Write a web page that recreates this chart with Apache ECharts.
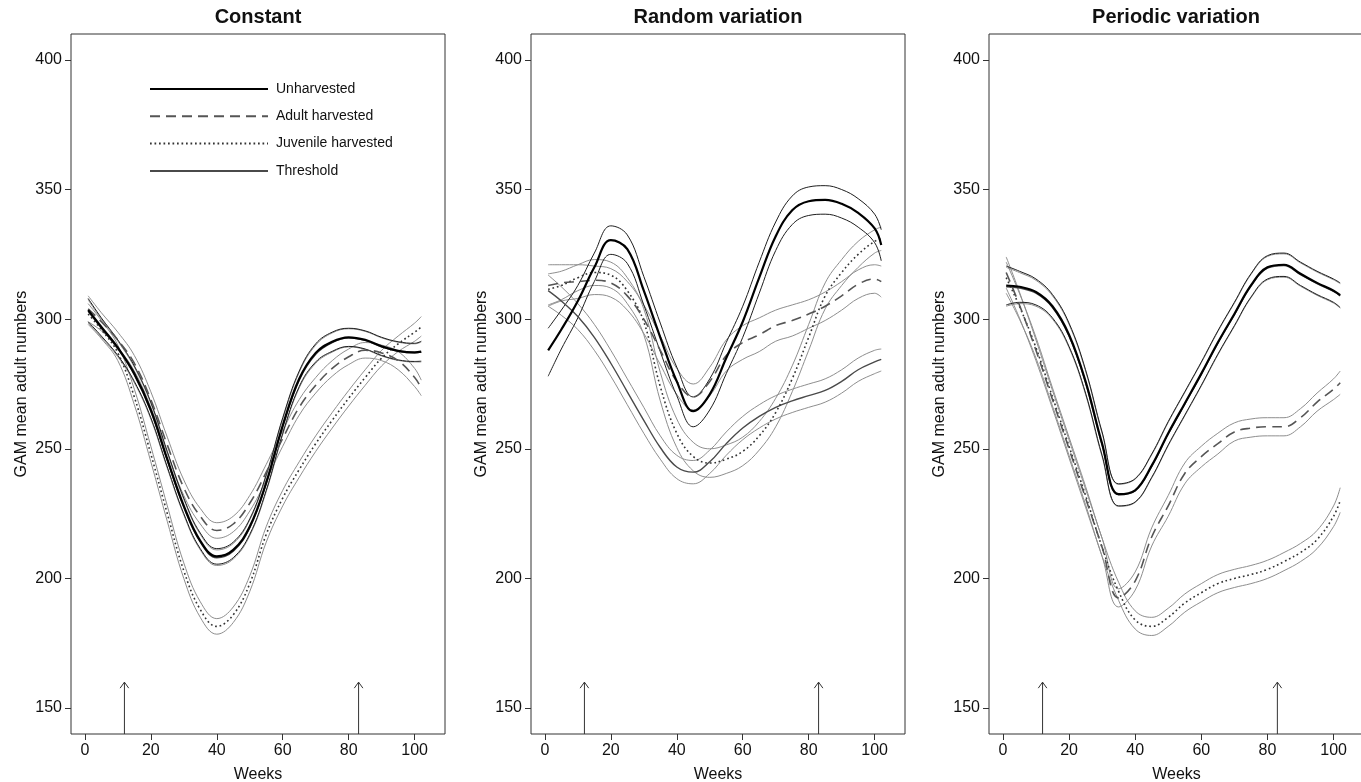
<!DOCTYPE html>
<html>
<head>
<meta charset="utf-8">
<title>GAM mean adult numbers</title>
<script src="https://cdn.jsdelivr.net/npm/echarts@6/dist/echarts.min.js"></script>
<style>
  html, body { margin: 0; padding: 0; background: #fff; }
  #chart { width: 1361px; height: 782px; }
</style>
</head>
<body>
<div id="chart"></div>
<script>
// Weeks at which the fitted GAM curves are sampled
const weeks = [1, 5, 10, 15, 20, 25, 30, 35, 40, 45, 50, 55, 60, 65, 70, 75, 80, 85, 90, 95, 100, 102];

// Axis ticks
const xTicks = [0, 20, 40, 60, 80, 100];
const yTicks = [150, 200, 250, 300, 350, 400];

// Harvest arrows (weeks) and their vertical extent
const arrowWeeks = [12, 83];
const arrowFrom = 140;
const arrowTo = 160;

const panelTitles = ['Constant', 'Random variation', 'Periodic variation'];
const seriesNames = ['Unharvested', 'Adult harvested', 'Juvenile harvested', 'Threshold'];

// ---- Constant environment ----
const constUnh   = [303.5, 297, 289, 279, 265, 246, 228, 214.5, 208.5, 211, 220, 237, 259, 277, 287, 291.3, 293, 292, 289.5, 287.8, 287.2, 287.5];
const constUnhHi = [308, 300.5, 292, 282, 268, 249, 231, 217.5, 211.5, 214, 223, 240, 262, 280, 290.5, 295, 296.5, 295.5, 293, 291.3, 290.7, 291.5];
const constUnhLo = [299, 293.5, 286, 276, 262, 243, 225, 211.5, 205.5, 208, 217, 234, 256, 274, 283.5, 287.6, 289.5, 288.5, 286, 284.3, 283.7, 283.8];

const constAdult   = [304, 299, 292, 283, 269, 251.5, 235, 224, 218.5, 221, 229, 241, 254, 266, 274.5, 281, 285.5, 288, 287, 284, 277.5, 273.5];
const constAdultHi = [309, 302.5, 295, 286, 272, 254.5, 238, 227, 221.5, 224, 232, 244, 257, 269, 277.5, 284, 288.5, 291, 290, 287.5, 281, 276.5];
const constAdultLo = [299, 295.5, 289, 280, 266, 248.5, 232, 221, 215.5, 218, 226, 238, 251, 263, 271.5, 278, 282.5, 285, 284, 280.5, 274, 270.5];

const constJuv   = [302, 296, 287, 270, 248, 225, 203, 188, 181.5, 186, 198, 217, 231, 242, 252, 261, 269.5, 277.5, 285, 290.5, 295, 297];
const constJuvHi = [306, 299.5, 290, 273, 251, 228, 206, 191, 184.5, 189, 201, 220, 234, 245, 255, 264, 272.5, 280.5, 288, 293.5, 298.5, 301];
const constJuvLo = [298, 292.5, 284, 267, 245, 222, 200, 185, 178.5, 183, 195, 214, 228, 239, 249, 258, 266.5, 274.5, 282, 287.5, 291.5, 293.5];

const constThr   = [303, 296.5, 288.5, 278.5, 264.5, 245.5, 227.5, 214, 208, 210.5, 219.5, 236.5, 258.5, 276.5, 286.5, 291, 292.8, 291.8, 289.3, 287.6, 287, 287.3];
const constThrHi = [307.5, 300, 291.5, 281.5, 267.5, 248.5, 230.5, 217, 211, 213.5, 222.5, 239.5, 261.5, 279.5, 290, 294.7, 296.3, 295.3, 292.8, 291.1, 290.5, 291.2];
const constThrLo = [298.5, 293, 285.5, 275.5, 261.5, 242.5, 224.5, 211, 205, 207.5, 216.5, 233.5, 255.5, 273.5, 283, 287.3, 289.3, 288.3, 285.8, 284.1, 283.5, 283.5];

// ---- Random variation ----
const randUnh   = [288, 296, 307, 320, 330.5, 327, 311, 293, 276, 264.5, 271, 285, 299, 316, 332, 342, 345.5, 346, 344.5, 341, 335, 328.6];
const randUnhHi = [296.5, 303.5, 313, 325.5, 336, 332.5, 316.5, 298.5, 281.5, 270, 277, 291, 305, 322, 337.5, 347.5, 351, 351.5, 350, 346.5, 340.5, 334.5];
const randUnhLo = [278, 288.5, 300.5, 314.5, 325, 321.5, 305.5, 287.5, 270.5, 258.5, 265, 279, 293, 310, 326.5, 336.5, 340, 340.5, 339, 335.5, 329.5, 322.5];

const randAdult   = [313, 314, 314.5, 315, 314, 309, 300, 288, 276, 270, 276, 286, 291, 294, 297.5, 299.5, 302, 305, 309, 313.5, 315.5, 314.5];
const randAdultHi = [321, 321, 321, 320.5, 319.5, 314.5, 305.5, 293.5, 281, 275, 281.5, 292, 297.5, 300.5, 303.5, 305.5, 307.5, 310.5, 314.5, 319, 321, 320.5];
const randAdultLo = [305, 307, 308, 309.5, 308.5, 303.5, 294.5, 282.5, 271, 265, 270.5, 280, 284.5, 287.5, 291.5, 293.5, 296.5, 299.5, 303.5, 308, 310, 308.5];

const randJuv   = [311.5, 313, 316, 318, 317, 311, 299, 274, 256, 247, 244.5, 246, 249, 255, 264, 277, 293, 309, 318, 325, 330, 331];
const randJuvHi = [317.5, 318.5, 321, 323, 322, 316, 304, 279.5, 261.5, 252.5, 250, 251.5, 254.5, 260.5, 269.5, 282, 298, 314, 323, 330, 334.5, 335.5];
const randJuvLo = [305.5, 307.5, 311, 313, 312, 306, 294, 268.5, 250.5, 241.5, 239, 240.5, 243.5, 249.5, 258.5, 272, 288, 304, 313, 320, 325.5, 326.5];

const randThr   = [311, 307, 301, 293, 283, 272, 261, 250.5, 243, 241, 245, 252, 258, 262.5, 266, 268.5, 270.5, 272.5, 276, 280.5, 283.5, 284.5];
const randThrHi = [317, 312.5, 306, 298, 288, 277, 266, 255, 247.5, 245.5, 249.5, 256.5, 262.5, 267, 270.5, 273, 275, 277, 280.5, 285, 288, 288.5];
const randThrLo = [305, 301.5, 296, 288, 278, 267, 256, 246, 238.5, 236.5, 240.5, 247.5, 253.5, 258, 261.5, 264, 266, 268, 271.5, 276, 279, 280];

// ---- Periodic variation ----
const perUnh   = [313, 312.5, 310.5, 305, 294, 276, 252, 232.5, 234, 243.5, 256, 267.5, 279, 291, 302, 313, 320, 321, 317.5, 314, 311, 309.3];
const perUnhHi = [320.5, 318.5, 315.5, 309.5, 298.5, 280.5, 256.5, 236.5, 238.5, 248, 260.5, 272, 283.5, 295.5, 306.5, 317.5, 324.5, 325.5, 322, 318.5, 315.5, 314];
const perUnhLo = [305.5, 306.5, 305.5, 300.5, 289.5, 271.5, 247.5, 228, 229.5, 239, 251.5, 263, 274.5, 286.5, 297.5, 308.5, 315.5, 316.5, 313, 309.5, 306.5, 304.5];

const perAdult   = [318, 305.5, 288, 269, 250, 231, 212, 192.5, 199, 216, 228, 240.5, 247, 252, 256.5, 258, 258.5, 258.5, 262, 268, 273, 275.5];
const perAdultHi = [324, 310.5, 292, 272.5, 253.5, 234.5, 215.5, 196, 202.5, 219.5, 232, 244.5, 251, 256, 260, 261.5, 262, 262, 265.5, 271.5, 277, 280];
const perAdultLo = [312, 300.5, 284, 265.5, 246.5, 227.5, 208.5, 189, 195.5, 212.5, 224, 236.5, 243, 248, 253, 254.5, 255, 255, 258.5, 264.5, 269, 271];

const perJuv   = [316, 305, 289, 270, 251, 232, 212, 195, 184, 181.5, 185, 190.5, 194.5, 198, 200, 201.5, 203.5, 206.5, 210, 215, 224, 230];
const perJuvHi = [322, 310, 293, 273.5, 254.5, 235.5, 215.5, 198.5, 187.5, 185, 188.5, 194, 198, 201.5, 203.5, 205, 207, 210, 213.5, 218.5, 228, 235];
const perJuvLo = [310, 300, 285, 266.5, 247.5, 228.5, 208.5, 191.5, 180.5, 178, 181.5, 187, 191, 194.5, 196.5, 198, 200, 203, 206.5, 211.5, 220, 225.5];

const perThr   = [312.5, 312, 310, 304.5, 293.5, 275.5, 251.5, 232.3, 233.8, 243.2, 255.7, 267.2, 278.7, 290.7, 301.7, 312.7, 319.7, 320.7, 317.2, 313.7, 310.7, 309];
const perThrHi = [320, 318, 315, 309, 298, 280, 256, 236.3, 238.3, 247.7, 260.2, 271.7, 283.2, 295.2, 306.2, 317.2, 324.2, 325.2, 321.7, 318.2, 315.2, 313.7];
const perThrLo = [305, 306, 305, 300, 289, 271, 247, 227.8, 229.3, 238.7, 251.2, 262.7, 274.2, 286.2, 297.2, 308.2, 315.2, 316.2, 312.7, 309.2, 306.2, 304.3];

// Panel groupings: [lower CI, fit, upper CI] for each treatment
const panels = [
  { unh: [constUnhLo, constUnh, constUnhHi], adult: [constAdultLo, constAdult, constAdultHi],
    juv: [constJuvLo, constJuv, constJuvHi], thr: [constThrLo, constThr, constThrHi] },
  { unh: [randUnhLo, randUnh, randUnhHi], adult: [randAdultLo, randAdult, randAdultHi],
    juv: [randJuvLo, randJuv, randJuvHi], thr: [randThrLo, randThr, randThrHi] },
  { unh: [perUnhLo, perUnh, perUnhHi], adult: [perAdultLo, perAdult, perAdultHi],
    juv: [perJuvLo, perJuv, perJuvHi], thr: [perThrLo, perThr, perThrHi] }
];

// Plot-region geometry
const gridBoxes = [
  { left: 71, width: 374 },
  { left: 531, width: 374 },
  { left: 989, width: 375 }
];
const gridTop = 34, gridHeight = 700;
const FONT = "'Liberation Sans', Arial, Helvetica, sans-serif";

const styles = {
  unh:    { color: '#000000', width: 2.2, type: 'solid' },
  unhCI:  { color: '#1e1e1e', width: 1.0, type: 'solid' },
  adult:  { color: '#555555', width: 1.6, type: [10, 6] },
  juv:    { color: '#333333', width: 1.6, type: [1.7, 2.8] },
  thr:    { color: '#4a4a4a', width: 1.4, type: 'solid' },
  grayCI: { color: '#8e8e8e', width: 1.0, type: 'solid' }
};

function pts(vals) { return weeks.map((w, i) => [w, vals[i]]); }

function lineSeries(name, vals, st, idx, z) {
  return {
    type: 'line', name: name, xAxisIndex: idx, yAxisIndex: idx,
    data: pts(vals), smooth: 0.4, symbol: 'none', showSymbol: false,
    color: st.color,
    lineStyle: { color: st.color, width: st.width, type: st.type, cap: 'butt' },
    silent: true, z: z, emphasis: { disabled: true }, animation: false
  };
}

const series = [];
panels.forEach((p, i) => {
  const groups = [
    ['Threshold', p.thr, styles.thr, styles.grayCI, 2],
    ['Juvenile harvested', p.juv, styles.juv, styles.grayCI, 3],
    ['Adult harvested', p.adult, styles.adult, styles.grayCI, 4],
    ['Unharvested', p.unh, styles.unh, styles.unhCI, 5]
  ];
  groups.forEach(([name, arrs, st, ciSt, z]) => {
    series.push(lineSeries(name + ' lower', arrs[0], ciSt, i, z));
    series.push(lineSeries(name + ' upper', arrs[2], ciSt, i, z));
  });
  groups.forEach(([name, arrs, st, ciSt, z]) => {
    series.push(lineSeries(name, arrs[1], st, i, z + 5));
  });
  // harvest-time arrows
  series.push({
    type: 'custom', xAxisIndex: i, yAxisIndex: i, silent: true, z: 20,
    data: arrowWeeks.map(w => [w, arrowFrom, arrowTo]),
    renderItem: function (params, api) {
      const base = api.coord([api.value(0), api.value(1)]);
      const tip = api.coord([api.value(0), api.value(2)]);
      const st = { stroke: '#333', lineWidth: 1, fill: null };
      return {
        type: 'group',
        children: [
          { type: 'line', shape: { x1: base[0], y1: base[1], x2: tip[0], y2: tip[1] }, style: st },
          { type: 'polyline', shape: { points: [[tip[0] - 4.3, tip[1] + 6], [tip[0], tip[1]], [tip[0] + 4.3, tip[1] + 6]] }, style: st }
        ]
      };
    }
  });
});

const option = {
  animation: false,
  backgroundColor: '#ffffff',
  textStyle: { fontFamily: FONT },
  title: panelTitles.map((t, i) => ({
    text: t,
    left: gridBoxes[i].left + 187,
    top: 7,
    padding: 0,
    textAlign: 'center',
    textStyle: { fontSize: 20, fontWeight: 'bold', color: '#111', fontFamily: FONT }
  })),
  legend: {
    data: seriesNames,
    orient: 'vertical',
    left: 149,
    top: 82,
    padding: 0,
    itemWidth: 118,
    itemHeight: 14,
    itemGap: 13.3,
    selectedMode: false,
    itemStyle: { opacity: 0, borderWidth: 0 },
    textStyle: { fontSize: 14, color: '#111', fontFamily: FONT, padding: [0, 0, 0, 3] }
  },
  grid: gridBoxes.map(g => ({
    left: g.left, top: gridTop, width: g.width, height: gridHeight,
    containLabel: false, outerBoundsMode: 'none',
    show: true, borderColor: '#333', borderWidth: 1, backgroundColor: 'transparent'
  })),
  xAxis: gridBoxes.map((g, i) => ({
    type: 'value', gridIndex: i, min: -4.2, max: 109.2, position: 'bottom',
    name: 'Weeks', nameLocation: 'middle', nameGap: 33,
    nameTextStyle: { fontSize: 16, color: '#111', fontFamily: FONT },
    axisLine: { show: false, onZero: false },
    axisTick: { show: true, length: 6, customValues: xTicks, lineStyle: { color: '#333' } },
    axisLabel: { show: true, customValues: xTicks, fontSize: 16, color: '#111', margin: 9, fontFamily: FONT },
    splitLine: { show: false }
  })),
  yAxis: gridBoxes.map((g, i) => ({
    type: 'value', gridIndex: i, min: 140, max: 410, position: 'left',
    name: 'GAM mean adult numbers', nameLocation: 'middle', nameGap: 41, nameRotate: 90,
    nameTextStyle: { fontSize: 16, color: '#111', fontFamily: FONT },
    axisLine: { show: false, onZero: false },
    axisTick: { show: true, length: 6, customValues: yTicks, lineStyle: { color: '#333' } },
    axisLabel: { show: true, customValues: yTicks, fontSize: 16, color: '#111', margin: 9, fontFamily: FONT },
    splitLine: { show: false }
  })),
  series: series
};

const chart = echarts.init(document.getElementById('chart'), null, { renderer: 'canvas' });
chart.setOption(option);
</script>
</body>
</html>
